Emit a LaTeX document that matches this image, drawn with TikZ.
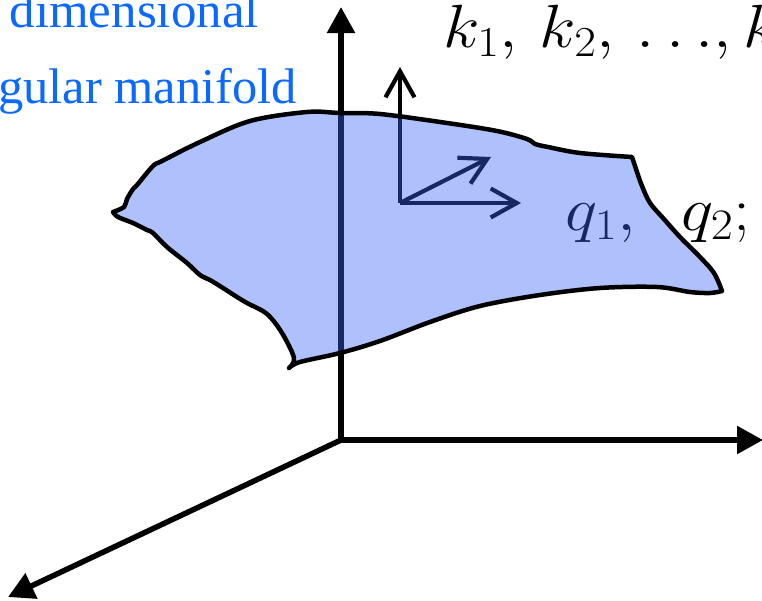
\RequirePackage{fix-cm}
\documentclass[tikz,border=0pt]{standalone}
\usepackage[no-math]{fontspec}
\setmainfont{Liberation Serif}
\newfontfamily\timesf{Liberation Serif}
\usetikzlibrary{arrows.meta}
\definecolor{mfill}{RGB}{55,100,250}
\definecolor{lblue}{RGB}{10,105,255}
\tikzset{
  axis/.style={line width=5.5pt,-{Triangle[length=26pt,width=27pt]}},
  frame/.style={line width=4.2pt,-{Straight Barb[length=26pt,width=29pt,line width=4.2pt]}},
  mani/.style={fill=mfill,fill opacity=0.4},
  outline/.style={line width=4.5pt,line join=round},
  lbl/.style={inner sep=0pt,anchor=base west},
  blbl/.style={inner sep=0pt,anchor=base east,text=lblue}
}
\begin{document}
\begin{tikzpicture}[x=1pt,y=-1pt]
\useasboundingbox (0,0) rectangle (762,600);
% axes
\coordinate (O) at (341,440);
\coordinate (zt) at (341,7);
\coordinate (xt) at (763,440);
\coordinate (yt) at (8,597);
\draw[axis] (O) -- (zt);
\draw[axis] (O) -- (xt);
\draw[axis] (O) -- (yt);
% small frame
\coordinate (o) at (400,203);
\coordinate (a1) at (400,67);
\coordinate (a2) at (521,203);
\coordinate (a3) at (491,157);
\draw[frame] (o) -- (a1);
\draw[frame] (o) -- (a2);
\draw[frame] (o) -- (a3);
% labels
\node[lbl] (q) at (565,230) {\scalebox{1.1}[1]{\fontsize{62}{70}\selectfont$q_1,\hspace{31pt}q_2;$}};
\node[lbl] (k) at (443,47) {\scalebox{1.1}[1]{\fontsize{61}{70}\selectfont$k_1,\, k_2,\, .\,.\,., k$}};
\node[blbl] (t1) at (259,27) {\scalebox{1.02}[1]{\timesf\fontsize{50}{56}\selectfont dimensional}};
\node[blbl] (t2) at (297,103) {\scalebox{1.01}[1]{\timesf\fontsize{50}{56}\selectfont gular manifold}};
% manifold
\def\manipath{
  plot[smooth,tension=0.55] coordinates {(113,212) (124,207) (127,199) (133,189) (137,185) (153,166) (162,161) (200,142) (250,121) (307,112) (340,113) (380,114) (447,123) (497,131) (527,139) (535,144) (548,147) (580,153) (632,157)}
  -- plot[smooth,tension=0.55] coordinates {(632,157) (637,172) (642,186) (650,203) (663,218) (680,237) (700,257) (714,273) (722,291)}
  -- plot[smooth,tension=0.55] coordinates {(722,291) (710,293) (690,292) (657,287) (600,288) (540,295) (480,306) (430,322) (380,341) (340,353) (300,362) (289,368)}
  -- plot[smooth,tension=0.55] coordinates {(289,368) (294,358) (282,333) (267,314) (247,303) (237,297) (223,288) (210,280) (200,275) (187,263) (167,247) (153,233) (147,230) (133,223) (118,217) (113,212)}
  -- cycle}
\path[mani] \manipath;
\draw[outline] \manipath;
\end{tikzpicture}
\end{document}
